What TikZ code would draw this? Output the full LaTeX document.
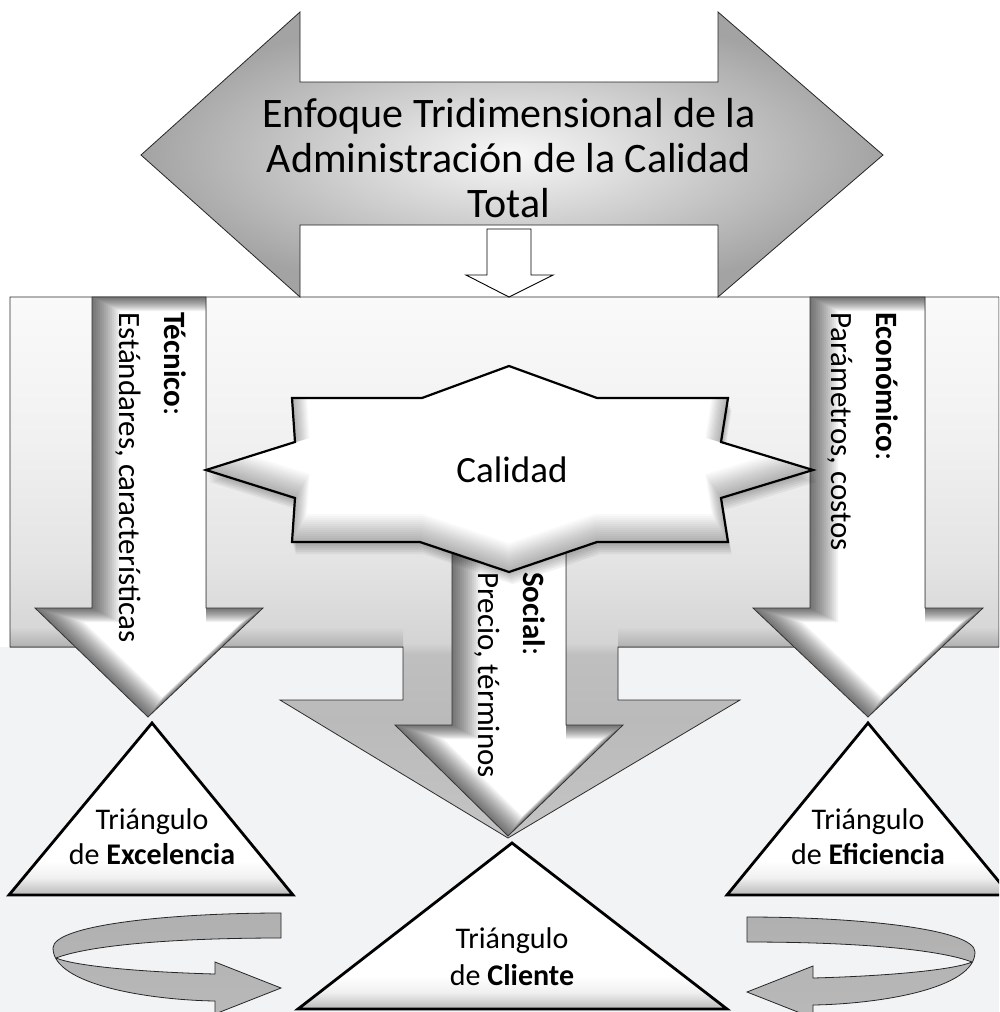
\documentclass[tikz,border=0pt]{standalone}
\usepackage{fontspec}
\setmainfont{Carlito}
\usetikzlibrary{calc}

% vertical fades used by the band, the triangles and the ribbons
\pgfdeclareverticalshading{bandshade}{100bp}{color(0bp)=(gray!46); color(25bp)=(gray!46); color(36bp)=(gray!54); color(42bp)=(gray!50); color(43bp)=(gray!34); color(50bp)=(gray!22); color(62bp)=(gray!11); color(75bp)=(gray!4); color(100bp)=(gray!4)}
\pgfdeclareverticalshading{trishade}{100bp}{color(0bp)=(gray!55); color(25bp)=(gray!55); color(30bp)=(gray!12); color(35bp)=(white); color(100bp)=(white)}

\definecolor{paper}{RGB}{241,243,245}

% soft shadow along the inside of a shape, offset by (#2,#3)
\newcommand\innerglow[4]{%
  \begin{scope}
    \clip #1;
    \foreach \w in {2,4,...,28}{%
      \begin{scope}[xshift={#2*\w*0.5pt}, yshift={#3*\w*0.5pt}]
        \draw[line width=\w pt, black, opacity=#4, line join=miter] #1;
      \end{scope}}
  \end{scope}}

\def\bandpath{(10,297) -- (999,297) -- (999,647) -- (618,647) -- (618,700) -- (740,700) -- (508,838) -- (280,700) -- (403,700) -- (403,647) -- (10,647) -- cycle}
\def\tecpath{(92,297) -- (206,297) -- (206,608) -- (263,608) -- (148,717) -- (35,608) -- (92,608) -- cycle}
\def\ecopath{(810,297) -- (925,297) -- (925,608) -- (983,608) -- (868,717) -- (753,608) -- (810,608) -- cycle}
\def\socpath{(452,520) -- (566,520) -- (566,725) -- (623,725) -- (508,836) -- (395,725) -- (452,725) -- cycle}
\def\starpath{(509,366) -- (597,398) -- (728,398) -- (721,442) -- (813,470) -- (721,498) -- (728,542) -- (597,542) -- (509,572) -- (420,542) -- (292,542) -- (295,498) -- (206,470) -- (295,442) -- (292,398) -- (422,398) -- cycle}
\def\toppath{(141,155) -- (300,12) -- (300,82) -- (718,82) -- (718,12) -- (883,155) -- (718,297) -- (718,225) -- (300,225) -- (300,297) -- cycle}
\def\ribbonpath{(281,913) .. controls (170,913) and (53,925) .. (53,948)
  .. controls (53,985) and (150,1000) .. (215,1001)
  -- (215,1014) -- (281,988) -- (215,962) -- (215,974)
  .. controls (140,972) and (75,966) .. (56,958)
  .. controls (90,945) and (175,938) .. (281,938) -- cycle}

\tikzset{
  txt/.style={inner sep=0pt, text=black},
  rotlbl/.style={txt, rotate=-90, anchor=north west, align=left, font=\fontsize{31}{45}\selectfont},
  trilbl/.style={txt, align=center, font=\fontsize{30}{35}\selectfont},
  wline/.style={draw=gray!40!black, line width=0.8pt},
  triline/.style={draw=black, line width=2.8pt, line join=miter},
  ribbon/.style={top color=gray!62, middle color=gray!4, bottom color=gray!55, draw=gray!30!black, line width=0.8pt},
}

\begin{document}
\begin{tikzpicture}[x=1pt,y=-1pt]
\useasboundingbox (0,0) rectangle (999,1012);
\clip (0,0) rectangle (999,1012);

% page and lower tint
\fill[white] (0,0) rectangle (999,1012);
\fill[paper] (0,647) rectangle (999,1012);

% grey band joined to the central broad arrow
\shade[shading=bandshade] \bandpath;
\shade[top color=gray!30, bottom color=gray!62] (10,626) rectangle (403,647);
\shade[top color=gray!30, bottom color=gray!62] (618,626) rectangle (999,647);
\draw[draw=gray!35!black, line width=0.8pt] \bandpath;

% three white arrows
\fill[white] \tecpath;
\innerglow{\tecpath}{1}{0}{0.05}
\draw[wline] \tecpath;
\fill[white] \ecopath;
\innerglow{\ecopath}{1}{0}{0.05}
\draw[wline] \ecopath;
\fill[white] \socpath;
\innerglow{\socpath}{1}{0}{0.05}
\draw[wline] \socpath;

% star with a soft drop shadow
\foreach \s in {2,4,...,12}{
  \begin{scope}[xshift=0.3*\s pt, yshift=-\s pt]
    \fill[black, opacity=0.05] \starpath;
  \end{scope}
}
\fill[white] \starpath;
\innerglow{\starpath}{0}{1}{0.025}
\draw[black, line width=2.2pt, line join=miter] \starpath;
\node[txt, font=\fontsize{37}{40}\selectfont] (calidad) at (512,470) {Calidad};

% two-headed banner arrow
\shade[shading=radial, inner color=gray!6, outer color=gray!72] \toppath;
\draw[draw=gray!30!black, line width=0.8pt] \toppath;
\node[txt, align=center, font=\fontsize{42}{45}\selectfont] (titulo) at (509,158)
  {Enfoque Tridimensional de la\\Administración de la Calidad\\Total};

% small arrow under the banner
\draw[fill=white, draw=black, line width=0.9pt]
  (487,229) -- (531,229) -- (531,275) -- (553,275) -- (509,297) -- (466,275) -- (487,275) -- cycle;

% labels on the arrows
\node[rotlbl] (tec) at (186,312) {\textbf{Técnico}:\\Estándares, características};
\node[rotlbl] (eco) at (898,312) {\textbf{Económico}:\\Parámetros, costos};
\node[rotlbl] (soc) at (545,572) {\textbf{Social}:\\Precio, términos};

% triangles
\shade[shading=trishade] (152,723) -- (293,895) -- (9,895) -- cycle;
\draw[triline] (152,723) -- (293,895) -- (9,895) -- cycle;
\shade[shading=trishade] (868,723) -- (1010,895) -- (727,895) -- cycle;
\draw[triline] (868,723) -- (1010,895) -- (727,895) -- cycle;
\shade[shading=trishade] (512,843) -- (727,1009) -- (298,1009) -- cycle;
\draw[triline] (512,843) -- (727,1009) -- (298,1009) -- cycle;

\node[trilbl] (excel) at (152,837) {Triángulo\\de \textbf{Excelencia}};
\node[trilbl] (efic) at (868,837) {Triángulo\\de \textbf{Eficiencia}};
\node[trilbl, font=\fontsize{30}{37}\selectfont] (cliente) at (512,957) {Triángulo\\de \textbf{Cliente}};

% circular ribbon arrows
\shade[ribbon] \ribbonpath;
\begin{scope}[xshift=1028pt, xscale=-1, yshift=-4pt]
  \shade[ribbon] \ribbonpath;
\end{scope}
\end{tikzpicture}
\end{document}
